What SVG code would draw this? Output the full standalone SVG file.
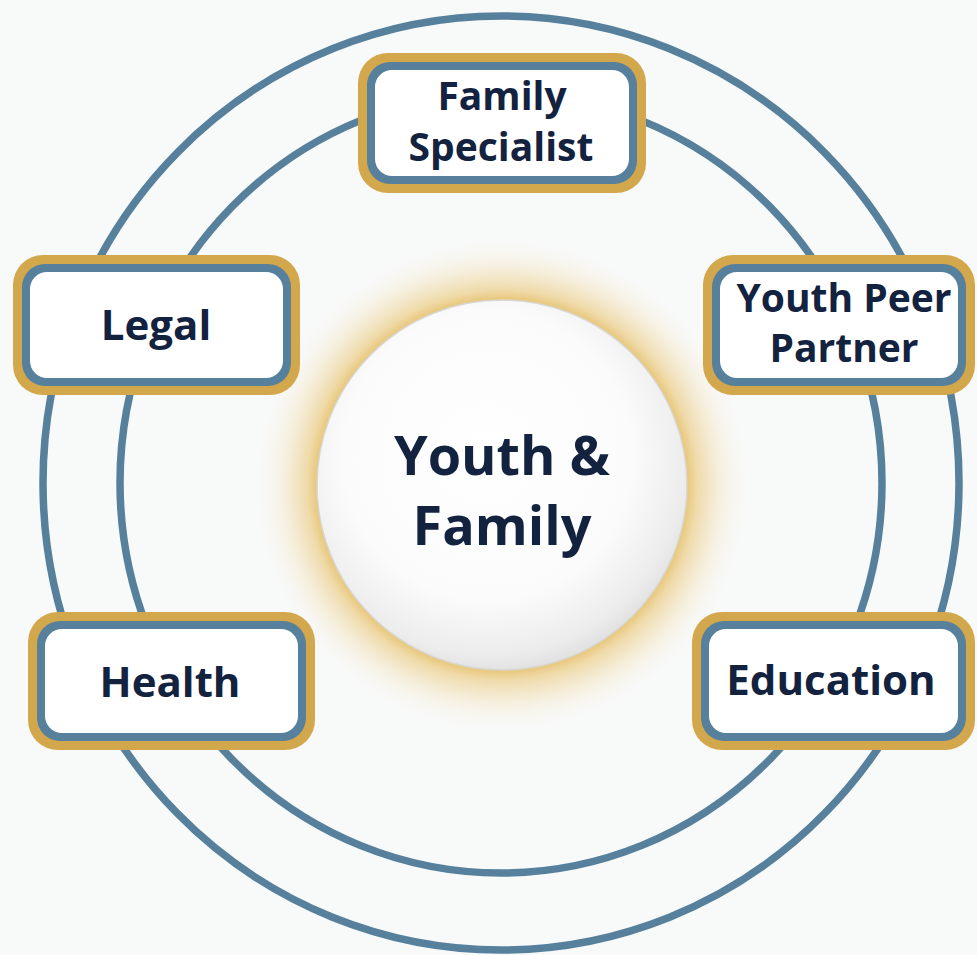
<svg xmlns="http://www.w3.org/2000/svg" width="977" height="955" viewBox="0 0 977 955">
  <defs>
    <radialGradient id="glow" cx="502" cy="485" r="250" gradientUnits="userSpaceOnUse">
      <stop offset="0.72" stop-color="#e4bb5c" stop-opacity="1"/>
      <stop offset="0.78" stop-color="#ebcc85" stop-opacity="0.7"/>
      <stop offset="0.88" stop-color="#f2e0b4" stop-opacity="0.35"/>
      <stop offset="1" stop-color="#f8f9f9" stop-opacity="0"/>
    </radialGradient>
    <radialGradient id="ball" cx="0.46" cy="0.42" r="0.6">
      <stop offset="0" stop-color="#ffffff"/>
      <stop offset="0.65" stop-color="#fbfbfb"/>
      <stop offset="0.9" stop-color="#ececec"/>
      <stop offset="1" stop-color="#dedede"/>
    </radialGradient>
    <style>
      .ring { fill: none; stroke: #56809c; stroke-width: 7.5; }
      .gold { fill: #d3a74c; }
      .blue { fill: #57809d; }
      .inner { fill: #ffffff; }
      .lbl { font-family: "Open Sans", "Noto Sans", "DejaVu Sans", sans-serif; font-weight: 700; font-size: 42px; fill: #13223f; text-anchor: middle; }
      .two { font-size: 39px; }
      .ctr { font-size: 54px; }
    </style>
  </defs>
  <rect x="0" y="0" width="977" height="955" fill="#f8f9f9"/>

  <g id="connectors">
    <ellipse class="ring" cx="501" cy="483" rx="458" ry="467"/>
    <ellipse class="ring" cx="501" cy="483" rx="381" ry="390"/>
  </g>

  <g id="center">
    <circle cx="502" cy="485" r="250" fill="url(#glow)"/>
    <circle cx="502" cy="485" r="185" fill="url(#ball)" stroke="#d9d6cf" stroke-width="1.5"/>
    <text class="lbl ctr" x="502" y="475">Youth &amp;</text>
    <text class="lbl ctr" x="502" y="545">Family</text>
  </g>

  <g id="family-specialist">
    <rect class="gold" x="358" y="53" width="288" height="140" rx="30"/>
    <rect class="blue" x="367" y="62" width="270" height="122" rx="23"/>
    <rect class="inner" x="375" y="70" width="254" height="106" rx="17"/>
    <text class="lbl two" x="502" y="110">Family</text>
    <text class="lbl two" x="501" y="161">Specialist</text>
  </g>

  <g id="legal">
    <rect class="gold" x="13" y="255" width="287" height="140" rx="30"/>
    <rect class="blue" x="22" y="264" width="269" height="122" rx="23"/>
    <rect class="inner" x="30" y="272" width="253" height="106" rx="17"/>
    <text class="lbl" x="156" y="340">Legal</text>
  </g>

  <g id="youth-peer-partner">
    <rect class="gold" x="703" y="255" width="272" height="140" rx="30"/>
    <rect class="blue" x="712" y="264" width="254" height="122" rx="23"/>
    <rect class="inner" x="720" y="272" width="238" height="106" rx="17"/>
    <text class="lbl two" x="844" y="312">Youth Peer</text>
    <text class="lbl two" x="844" y="362">Partner</text>
  </g>

  <g id="health">
    <rect class="gold" x="28" y="612" width="287" height="138" rx="30"/>
    <rect class="blue" x="37" y="621" width="269" height="120" rx="23"/>
    <rect class="inner" x="45" y="629" width="253" height="104" rx="17"/>
    <text class="lbl" x="170" y="697">Health</text>
  </g>

  <g id="education">
    <rect class="gold" x="692" y="612" width="283" height="138" rx="30"/>
    <rect class="blue" x="701" y="621" width="265" height="120" rx="23"/>
    <rect class="inner" x="709" y="629" width="249" height="104" rx="17"/>
    <text class="lbl" x="831" y="695">Education</text>
  </g>
</svg>
